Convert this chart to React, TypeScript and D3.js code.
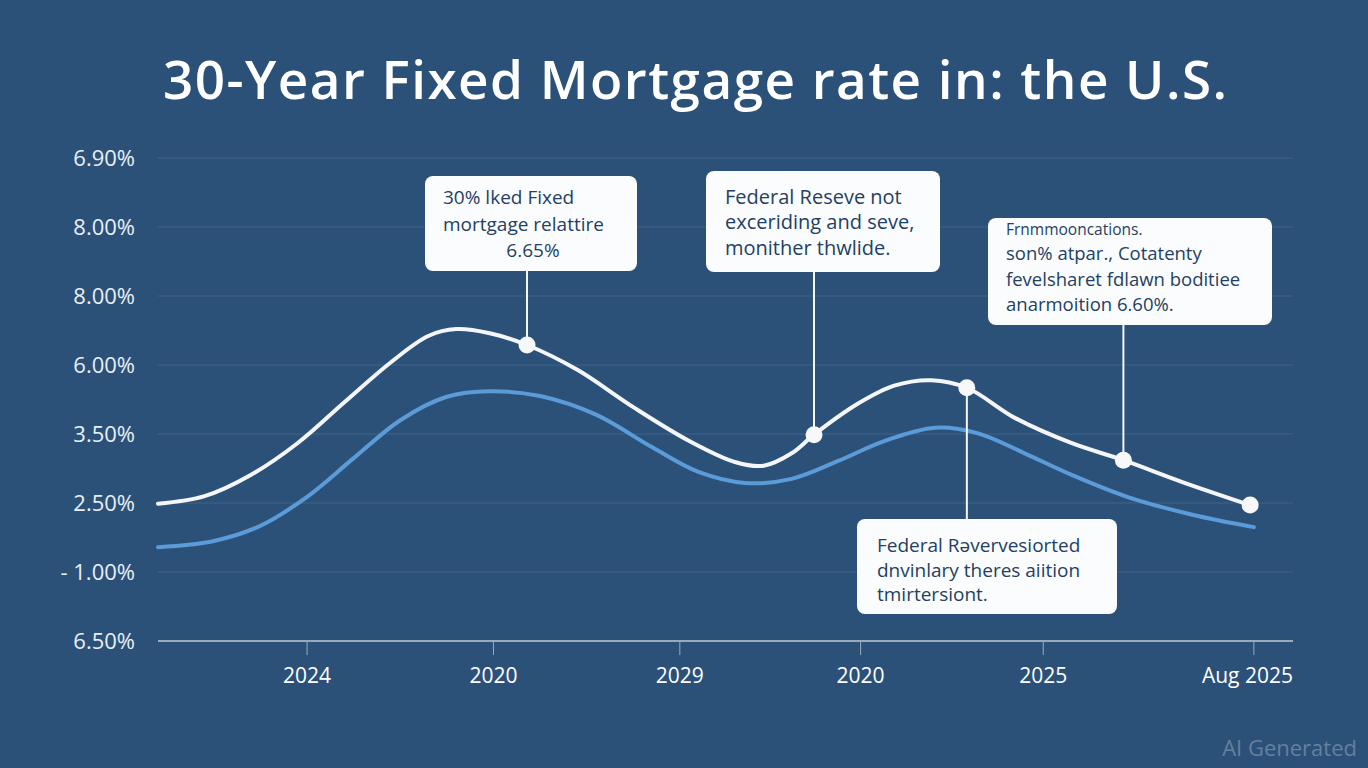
import React from 'react';
import * as d3 from 'd3';

// Chart text
const title = '30-Year Fixed Mortgage rate in: the U.S.';
const yTickLabels = ['6.50%', '- 1.00%', '2.50%', '3.50%', '6.00%', '8.00%', '8.00%', '6.90%'];
const xTickValues = [0, 1, 2, 2.97, 3.95, 5.08];
const xTickLabels = ['2024', '2020', '2029', '2020', '2025', 'Aug 2025'];

// Series (x in period units, y in grid-step units)
const rateT = [-0.8, -0.55, -0.3, -0.05, 0.2, 0.45, 0.65, 0.8, 0.98, 1.18, 1.45, 1.75, 2.05, 2.3, 2.45, 2.6, 2.72, 2.95, 3.15, 3.35, 3.54, 3.8, 4.1, 4.38, 4.7, 5.06];
const rateV = [1.99, 2.1, 2.41, 2.87, 3.46, 4.04, 4.42, 4.52, 4.46, 4.29, 3.93, 3.39, 2.9, 2.59, 2.54, 2.72, 2.99, 3.43, 3.7, 3.78, 3.67, 3.23, 2.87, 2.62, 2.3, 1.97];
const avgT = [-0.8, -0.5, -0.25, 0, 0.25, 0.5, 0.75, 0.98, 1.25, 1.55, 1.85, 2.1, 2.35, 2.6, 2.85, 3.1, 3.37, 3.6, 3.85, 4.1, 4.4, 4.75, 5.08];
const avgV = [1.36, 1.45, 1.67, 2.09, 2.65, 3.2, 3.54, 3.62, 3.55, 3.28, 2.81, 2.45, 2.29, 2.35, 2.61, 2.9, 3.09, 3.01, 2.72, 2.41, 2.09, 1.83, 1.65];
const markerT = [1.18, 2.72, 3.54, 4.38, 5.06];

// Annotation texts, one per marker
const noteLines = [
  ['30% lked Fixed', 'mortgage relattire', '6.65%'],
  ['Federal Reseve not', 'exceriding and seve,', 'monither thwlide.'],
  ['Federal Rəvervesiorted', 'dnvinlary theres aiition', 'tmirtersiont.'],
  ['Frnmmooncations.', 'son% atpar., Cotatenty', 'fevelsharet fdlawn boditiee', 'anarmoition 6.60%.'],
];

const W = 1368;
const H = 768;
const plot = { left: 158, right: 1293, top: 158, bottom: 641 };
const font = '"Open Sans", "Noto Sans", sans-serif';

// Box layout for each note (marker index, box rect, text layout)
const noteBoxes = [
  { marker: 0, x: 425, y: 176, w: 212, h: 95, tx: 443, lineY: [197, 224, 250], size: 19, centerLast: true },
  { marker: 1, x: 706, y: 171, w: 234, h: 101, tx: 725, lineY: [197, 222, 248], size: 20, centerLast: false },
  { marker: 2, x: 857, y: 519, w: 260, h: 95, tx: 877, lineY: [545, 570, 594], size: 19, centerLast: false },
  { marker: 3, x: 988, y: 218, w: 284, h: 107, tx: 1006, lineY: [230, 254, 280, 305], size: 18.5, centerLast: false },
];

const App: React.FC = () => {
  const x = d3.scaleLinear().domain([-0.8, 5.29]).range([plot.left, plot.right]);
  const y = d3.scaleLinear().domain([0, 7]).range([plot.bottom, plot.top]);

  const line = d3.line<[number, number]>()
    .x(d => x(d[0]))
    .y(d => y(d[1]))
    .curve(d3.curveCatmullRom.alpha(0.5));

  const ratePts = rateT.map((t, i) => [t, rateV[i]] as [number, number]);
  const avgPts = avgT.map((t, i) => [t, avgV[i]] as [number, number]);
  const markerPts = markerT.map(t => {
    const i = rateT.indexOf(t);
    return [t, rateV[i]] as [number, number];
  });

  return (
    <svg width={W} height={H} style={{ position: 'absolute', left: 0, top: 0 }}>
      <rect width={W} height={H} fill="#2b5179" />

      <text x={695} y={99} textAnchor="middle" fill="#ffffff" fontFamily={font}
        fontWeight={600} fontSize={53} textLength={1064} lengthAdjust="spacing">
        {title}
      </text>

      {/* grid */}
      {yTickLabels.map((lab, i) => (
        <g key={'y' + i}>
          {i > 0 && (
            <line x1={plot.left} x2={plot.right} y1={y(i)} y2={y(i)}
              stroke="#ffffff" strokeOpacity={0.1} strokeWidth={1.2} />
          )}
          <text x={135} y={y(i)} dy="0.35em" textAnchor="end" fill="#e9eff6"
            fontFamily={font} fontWeight={500} fontSize={22}>
            {lab}
          </text>
        </g>
      ))}

      {/* x axis */}
      <line x1={plot.left} x2={plot.right} y1={plot.bottom} y2={plot.bottom}
        stroke="#9aaabd" strokeWidth={2} />
      {xTickValues.map((t, i) => {
        const last = i === xTickValues.length - 1;
        return (
          <g key={'x' + i}>
            <line x1={x(t)} x2={x(t)} y1={plot.bottom} y2={plot.bottom + 14}
              stroke="#9aaabd" strokeWidth={1} />
            <text x={last ? plot.right : x(t)} y={676} dy="0.35em" textAnchor={last ? 'end' : 'middle'}
              fill="#ffffff" fontFamily={font} fontWeight={500} fontSize={21}>
              {xTickLabels[i]}
            </text>
          </g>
        );
      })}

      {/* series */}
      <path d={line(avgPts) || ''} fill="none" stroke="#5b9bd8" strokeWidth={4} strokeLinecap="round" />
      <path d={line(ratePts) || ''} fill="none" stroke="#f4f6f9" strokeWidth={4} strokeLinecap="round" />

      {/* connectors */}
      {noteBoxes.map((b, i) => {
        const p = markerPts[b.marker];
        const cx = x(p[0]);
        const cy = y(p[1]);
        const edge = b.y > cy ? b.y : b.y + b.h;
        return <line key={'c' + i} x1={cx} x2={cx} y1={cy} y2={edge} stroke="#f4f6f9" strokeWidth={2} />;
      })}

      {markerPts.map((p, i) => (
        <circle key={'m' + i} cx={x(p[0])} cy={y(p[1])} r={8.5} fill="#f7f8fa" />
      ))}

      {/* notes */}
      {noteBoxes.map((b, i) => (
        <g key={'n' + i}>
          <rect x={b.x} y={b.y} width={b.w} height={b.h} rx={8} fill="#fbfcfd" />
          {noteLines[i].map((s, j) => {
            const centered = b.centerLast && j === noteLines[i].length - 1;
            const small = i === 3 && j === 0;
            return (
              <text key={j} x={centered ? b.x + b.w / 2 + 2 : b.tx} y={b.lineY[j]} dy="0.35em"
                textAnchor={centered ? 'middle' : 'start'} fill="#243f63"
                fontFamily={font} fontWeight={500} fontSize={small ? 15.5 : b.size}>
                {s}
              </text>
            );
          })}
        </g>
      ))}

      <text x={1357} y={748} dy="0.35em" textAnchor="end" fill="#ffffff" fillOpacity={0.28}
        fontFamily={font} fontSize={22}>
        AI Generated
      </text>
    </svg>
  );
};

export default App;
